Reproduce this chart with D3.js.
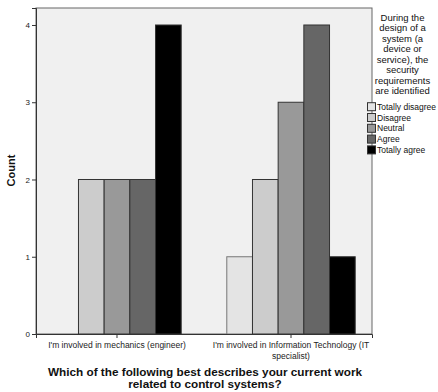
<!DOCTYPE html>
<html><head><meta charset="utf-8">
<script src="https://cdn.jsdelivr.net/npm/d3@7"></script>
<style>body{margin:0;background:#fff}svg{display:block;font-family:"Liberation Sans",Arial,sans-serif}</style>
</head><body>
<svg id="c" width="438" height="392"></svg>
<script>
const categories = ["I'm involved in mechanics (engineer)", "I'm involved in Information Technology (IT specialist)"];
const categoryLines = [["I'm involved in mechanics (engineer)"], ["I'm involved in Information Technology (IT", "specialist)"]];
const seriesNames = ["Totally disagree", "Disagree", "Neutral", "Agree", "Totally agree"];
const mechanicsCounts = [0, 2, 2, 2, 4];
const itCounts = [1, 2, 3, 4, 1];
const yTicks = [0, 1, 2, 3, 4];
const legendTitle = ["During the", "design of a", "system (a", "device or", "service), the", "security", "requirements", "are identified"];
const xTitle = ["Which of the following best describes your current work", "related to control systems?"];
const yTitle = "Count";
const colors = ["#e4e4e4", "#cccccc", "#999999", "#666666", "#000000"];

const data = categories.map((c, i) => ({cat: c, values: (i === 0 ? mechanicsCounts : itCounts)}));

const svg = d3.select("#c");
const L = 36, R = 372, T = 8, B = 334;

svg.append("rect").attr("x", L).attr("y", T).attr("width", R - L).attr("height", B - T)
  .attr("fill", "#f0f0f0").attr("stroke", "#666").attr("stroke-width", 1);

const x0 = d3.scaleBand().domain(categories).range([L, R]).paddingInner(0.262).paddingOuter(0.0965);
const x1 = d3.scaleBand().domain(seriesNames).range([0, x0.bandwidth()]).padding(0);
const y = d3.scaleLinear().domain([0, 4.22]).range([B, T]);
const color = d3.scaleOrdinal().domain(seriesNames).range(colors);

const g = svg.selectAll("g.grp").data(data).join("g").attr("class", "grp")
  .attr("transform", d => `translate(${x0(d.cat)},0)`);
g.selectAll("rect").data(d => d.values.map((v, i) => ({s: seriesNames[i], v})))
  .join("rect")
  .attr("x", d => x1(d.s)).attr("width", x1.bandwidth())
  .attr("y", d => y(d.v)).attr("height", d => B - y(d.v))
  .attr("fill", d => color(d.s))
  .attr("stroke", d => d.s === "Totally disagree" ? "#777" : "#333").attr("stroke-width", 1);

// y axis
const ya = svg.append("g").attr("transform", `translate(${L},0)`)
  .call(d3.axisLeft(y).tickValues(yTicks).tickSize(4).tickPadding(2).tickFormat(d3.format("d")));
ya.select(".domain").attr("stroke", "#333");
ya.selectAll(".tick line").attr("stroke", "#333");
ya.selectAll("text").attr("font-size", "8px").attr("fill", "#222").attr("font-family", "Liberation Sans, Arial, sans-serif");

// x axis
const xa = svg.append("g").attr("transform", `translate(0,${B})`)
  .call(d3.axisBottom(x0).tickSize(4).tickFormat(""));
xa.select(".domain").attr("stroke", "#333");
xa.selectAll(".tick line").attr("stroke", "#333");
xa.selectAll(".tick").each(function(d, i) {
  const t = d3.select(this).append("text").attr("fill", "#222").attr("font-size", "8.5px")
    .attr("text-anchor", "middle").attr("font-family", "Liberation Sans, Arial, sans-serif");
  categoryLines[i].forEach((ln, k) => t.append("tspan").attr("x", 0).attr("y", 14 + k * 11).text(ln));
});

// axis titles
const xt = svg.append("text").attr("font-weight", "bold").attr("font-size", "11.75px").attr("fill", "#111");
xt.append("tspan").attr("x", 205).attr("y", 376).attr("text-anchor", "middle").text(xTitle[0]);
xt.append("tspan").attr("x", 205).attr("y", 388).attr("text-anchor", "middle").text(xTitle[1]);

svg.append("text").attr("transform", `translate(15,${170.5}) rotate(-90)`)
  .attr("text-anchor", "middle").attr("font-weight", "bold").attr("font-size", "11px").attr("fill", "#111").text(yTitle);

// legend
const lt = svg.append("text").attr("font-size", "9.5px").attr("fill", "#111").attr("text-anchor", "middle");
legendTitle.forEach((ln, k) => lt.append("tspan").attr("x", 402.5).attr("y", 21 + k * 10.43).text(ln));
const lg = svg.append("g");
seriesNames.forEach((s, k) => {
  const cy = 106.7 + k * 10.8;
  lg.append("rect").attr("x", 367.5).attr("y", cy - 4).attr("width", 8).attr("height", 8)
    .attr("fill", color(s)).attr("stroke", "#333").attr("stroke-width", 1);
  lg.append("text").attr("x", 377).attr("y", cy + 3).attr("font-size", "8.5px").attr("fill", "#111").text(s);
});
</script>
</body></html>
